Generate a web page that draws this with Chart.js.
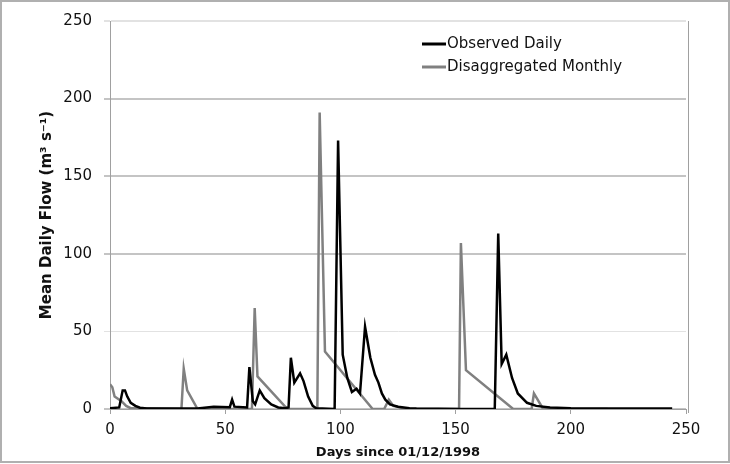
<!DOCTYPE html>
<html>
<head>
<meta charset="utf-8">
<script src="https://cdn.jsdelivr.net/npm/chart.js@4.4.0/dist/chart.umd.min.js"></script>
<style>
  body { margin: 0; background: #fff; }
  #c { display: block; }
</style>
</head>
<body>
<canvas id="c" width="730" height="464"></canvas>
<script>
// observed daily flow, [day, m3/s]
const observedDays = [0, 4, 5.5, 6.5, 7.5, 9, 11, 13, 16, 31, 38, 45, 52, 53, 54, 59.5, 60.5, 62, 63, 65, 67, 70, 73, 76, 77.5, 78.5, 80, 82.5, 84, 86, 88, 89.5, 97.5, 99, 101, 103, 105, 107, 108.5, 110.7, 113, 115, 116.5, 118, 119.5, 121.5, 125, 130, 133, 152, 167, 168.5, 170, 172, 174.5, 177, 181, 185, 191, 200, 244];
const observedFlow = [0.5, 1, 12, 12, 8, 4, 2, 0.8, 0.3, 0.3, 0.3, 1.5, 1.2, 6, 1.5, 1, 27, 5, 3, 12, 7, 3, 1, 0.5, 1, 33, 17, 23, 18, 8, 2, 0.5, 0, 173, 35, 20, 11, 13, 10, 53, 33, 22, 17, 10, 6, 3, 1.5, 0.5, 0.3, 0, 0, 113, 29, 35, 20, 10, 4, 2, 1, 0.5, 0.3];

// disaggregated monthly flow
const monthlyDays = [0, 1, 2, 5, 7, 9, 16, 31, 32, 33.5, 38, 61.6, 62.8, 64, 77, 90, 91, 93.3, 114, 119, 121, 123, 129, 151.5, 152.3, 154.5, 175, 183, 184, 188, 216];
const monthlyFlow = [16, 14, 8, 5, 2, 0.5, 0.5, 0, 26, 12, 0, 0, 65, 21, 0, 0, 191, 37, 0, 0, 6, 2, 0, 0, 107, 25, 0, 0, 10, 0, 0];

const xTicks = [0, 50, 100, 150, 200, 250];
const yTicks = [0, 50, 100, 150, 200, 250];

const pts = (xs, ys) => xs.map((x, i) => ({ x: x, y: ys[i] }));

const legendInside = {
  id: 'legendInside',
  afterDraw(chart) {
    const ctx = chart.ctx;
    ctx.save();
    ctx.font = '15px "DejaVu Sans"';
    ctx.textBaseline = 'middle';
    chart.data.datasets.forEach((ds, i) => {
      const y = 44 + i * 23;
      ctx.strokeStyle = ds.borderColor;
      ctx.lineWidth = 3;
      ctx.beginPath();
      ctx.moveTo(422, y);
      ctx.lineTo(446, y);
      ctx.stroke();
      ctx.fillStyle = '#111';
      ctx.fillText(ds.label, 447, y);
    });
    ctx.restore();
  }
};

const frame = {
  id: 'frame',
  afterDraw(chart) {
    const ctx = chart.ctx;
    const a = chart.chartArea;
    ctx.save();
    ctx.strokeStyle = '#a0a0a0';
    ctx.lineWidth = 1;
    ctx.beginPath();
    ctx.moveTo(a.right + 2.5, a.top);
    ctx.lineTo(a.right + 2.5, a.bottom + 4);
    ctx.stroke();
    ctx.strokeStyle = '#b0b0b0';
    ctx.lineWidth = 2;
    ctx.strokeRect(1, 1, 728, 461);
    ctx.restore();
  }
};

new Chart(document.getElementById('c'), {
  type: 'line',
  data: {
    datasets: [
      {
        label: 'Observed Daily',
        data: pts(observedDays, observedFlow),
        borderColor: '#000000',
        borderWidth: 2.5,
        pointRadius: 0,
        tension: 0,
        order: 1
      },
      {
        label: 'Disaggregated Monthly',
        data: pts(monthlyDays, monthlyFlow),
        borderColor: '#808080',
        borderWidth: 2.5,
        pointRadius: 0,
        tension: 0,
        order: 2
      }
    ]
  },
  options: {
    responsive: false,
    animation: false,
    layout: { padding: { left: 0, top: 13, right: 44, bottom: 0 } },
    plugins: {
      legend: { display: false },
      tooltip: { enabled: false }
    },
    scales: {
      x: {
        type: 'linear',
        min: 0,
        max: 250,
        afterBuildTicks: s => { s.ticks = xTicks.map(v => ({ value: v })); },
        afterFit: s => { s.height = 55; },
        border: { color: '#a0a0a0', width: 1 },
        grid: { drawOnChartArea: false, drawTicks: true, tickLength: 5, color: '#a0a0a0' },
        ticks: { color: '#111', padding: 7, maxRotation: 0, font: { family: '"DejaVu Sans"', size: 15 } },
        title: {
          display: true,
          text: 'Days since 01/12/1998',
          color: '#111',
          padding: { top: 0, bottom: 4 },
          font: { family: '"DejaVu Sans"', size: 13, weight: 'bold' }
        }
      },
      y: {
        min: 0,
        max: 250,
        afterBuildTicks: s => { s.ticks = yTicks.map(v => ({ value: v })); },
        afterFit: s => { s.width = 110; },
        border: { color: '#a0a0a0', width: 1 },
        grid: {
          drawTicks: true,
          tickLength: 6,
          color: c => (c.tick && (c.tick.value === 50 || c.tick.value === 250)) ? '#e2e2e2' : '#c4c4c4',
          lineWidth: c => (c.tick && c.tick.value === 50) ? 1 : 2
        },
        ticks: { color: '#111', padding: 12, font: { family: '"DejaVu Sans"', size: 15 } },
        title: {
          display: true,
          text: 'Mean Daily Flow (m³ s⁻¹)',
          color: '#111',
          padding: { top: 38, bottom: 0 },
          font: { family: '"DejaVu Sans"', size: 15, weight: 'bold' }
        }
      }
    }
  },
  plugins: [legendInside, frame]
});
</script>
</body>
</html>
